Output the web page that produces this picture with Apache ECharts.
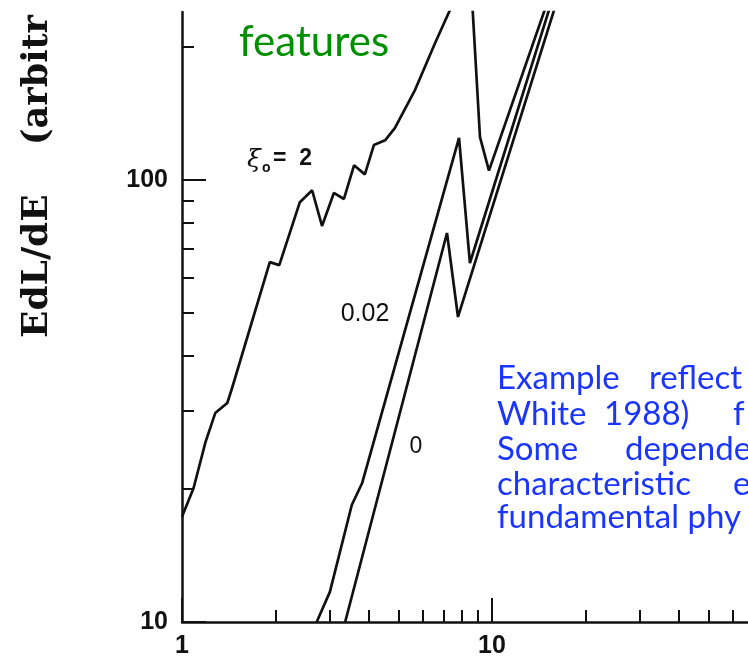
<!DOCTYPE html>
<html><head><meta charset="utf-8">
<script src="https://cdn.jsdelivr.net/npm/echarts@6/dist/echarts.min.js"></script>
<style>html,body{margin:0;padding:0;background:#fff}#c{width:748px;height:665px}</style>
</head><body><div id="c"></div>
<script>
// ---- data ----
const xMajorTicks = [1, 10];
const xMinorTicks = [2, 3, 4, 5, 6, 7, 8, 9, 20, 30, 40, 50, 60];
const yMajorTicks = [10, 100];
const yMinorTicks = [20, 30, 40, 50, 60, 70, 80, 90, 200];

// xi_o = 2
const curveXi2 = [
  [1.00, 17.3], [1.09, 20.1], [1.19, 25.5], [1.28, 29.7], [1.40, 31.3], [1.45, 33.8],
  [1.92, 65.2], [2.06, 64.2], [2.40, 89.1], [2.63, 94.8], [2.83, 78.7], [3.09, 93.5],
  [3.33, 90.6], [3.59, 108], [3.89, 103], [4.16, 120], [4.52, 123], [4.86, 131],
  [5.65, 160], [6.55, 204], [8.5, 306], [9.15, 125], [9.78, 105], [18.9, 398]
];
// xi_o = 0.02
const curveXi002 = [
  [2.72, 10], [3.0, 11.7], [3.53, 18.4], [3.81, 20.6], [7.83, 124.5], [8.49, 64.9], [19.05, 398]
];
// xi_o = 0
const curveXi0 = [
  [3.36, 10], [7.16, 75.9], [7.77, 49.0], [19.8, 398]
];

const blueLines = [
  ['Example', 'reflect'],
  ['White', '1988)', 'f'],
  ['Some', 'depende'],
  ['characteristic', 'e'],
  ['fundamental phy']
];

// ---- layout / style ----
const ink = '#111111';
const blueWordX = [
  [497, 649],
  [497, 604, 733],
  [497, 625],
  [497, 733],
  [497]
];
const blueCenterY = [378, 414, 449, 484, 517];

const chart = echarts.init(document.getElementById('c'), null, {renderer: 'canvas'});

const tickLabelStyle = {color: ink, fontFamily: 'Liberation Sans', fontWeight: 'bold', fontSize: 25};

function lineSeries(name, data) {
  return {
    name, type: 'line', data, xAxisIndex: 0, yAxisIndex: 0,
    showSymbol: false, symbol: 'none', clip: true,
    lineStyle: {color: ink, width: 2.7}, emphasis: {disabled: true}
  };
}

const graphics = [];
// y-axis name (rotated)
graphics.push({type: 'text', x: 38, y: 338, rotation: Math.PI / 2,
  style: {text: 'EdL/dE', fill: ink, font: 'bold 36px "DejaVu Serif"', align: 'left', verticalAlign: 'middle'}});
graphics.push({type: 'text', x: 38, y: 145, rotation: Math.PI / 2,
  style: {text: '(arbitr', fill: ink, font: 'bold 35px "DejaVu Serif"', align: 'left', verticalAlign: 'middle'}});
// curve labels
graphics.push({type: 'text', x: 247, y: 160, style: {text: 'ξ', fill: ink, font: 'italic 25px "DejaVu Serif"', align: 'left', verticalAlign: 'middle'}});
graphics.push({type: 'text', x: 262, y: 168, style: {text: 'o', fill: ink, font: 'bold 14px "Liberation Sans"', align: 'left', verticalAlign: 'middle'}});
graphics.push({type: 'text', x: 273, y: 159, style: {text: '=  2', fill: ink, font: 'bold 23px "Liberation Sans"', align: 'left', verticalAlign: 'middle'}});
graphics.push({type: 'text', x: 365, y: 314, style: {text: '0.02', fill: ink, font: '25px "Liberation Sans"', align: 'center', verticalAlign: 'middle'}});
graphics.push({type: 'text', x: 416, y: 447, style: {text: '0', fill: ink, font: '23px "Liberation Sans"', align: 'center', verticalAlign: 'middle'}});
// green word
graphics.push({type: 'text', x: 239, y: 42, style: {text: 'features', fill: '#008f00', font: '42px Lato', align: 'left', verticalAlign: 'middle'}});
// blue paragraph
blueLines.forEach((words, i) => {
  words.forEach((w, j) => {
    graphics.push({type: 'text', x: blueWordX[i][j], y: blueCenterY[i],
      style: {text: w, fill: '#1a35ff', font: '33px Lato', align: 'left', verticalAlign: 'middle'}});
  });
});

const option = {
  animation: false,
  backgroundColor: '#ffffff',
  grid: {left: 182, top: 12, bottom: 43, right: 0, containLabel: false},
  xAxis: [
    {type: 'log', logBase: 10, min: 1, max: 67, position: 'bottom',
      axisLine: {show: true, onZero: false, lineStyle: {color: ink, width: 2.5}},
      axisTick: {show: true, inside: true, length: 24, customValues: xMajorTicks, lineStyle: {color: ink, width: 2}},
      axisLabel: Object.assign({customValues: xMajorTicks, margin: 12}, tickLabelStyle),
      splitLine: {show: false}, minorTick: {show: false}},
    {type: 'log', logBase: 10, min: 1, max: 67, position: 'bottom',
      axisLine: {show: false},
      axisTick: {show: true, inside: true, length: 12, customValues: xMinorTicks, lineStyle: {color: ink, width: 2}},
      axisLabel: {show: false}, splitLine: {show: false}}
  ],
  yAxis: [
    {type: 'log', logBase: 10, min: 10, max: 240, position: 'left',
      axisLine: {show: true, onZero: false, lineStyle: {color: ink, width: 2.5}},
      axisTick: {show: true, inside: true, length: 24, customValues: yMajorTicks, lineStyle: {color: ink, width: 2}},
      axisLabel: Object.assign({customValues: yMajorTicks, margin: 14}, tickLabelStyle),
      splitLine: {show: false}, minorTick: {show: false}},
    {type: 'log', logBase: 10, min: 10, max: 240, position: 'left',
      axisLine: {show: false},
      axisTick: {show: true, inside: true, length: 12, customValues: yMinorTicks, lineStyle: {color: ink, width: 2}},
      axisLabel: {show: false}, splitLine: {show: false}}
  ],
  series: [
    lineSeries('ξo = 2', curveXi2),
    lineSeries('0.02', curveXi002),
    lineSeries('0', curveXi0)
  ],
  graphic: graphics
};
chart.setOption(option);
</script></body></html>
